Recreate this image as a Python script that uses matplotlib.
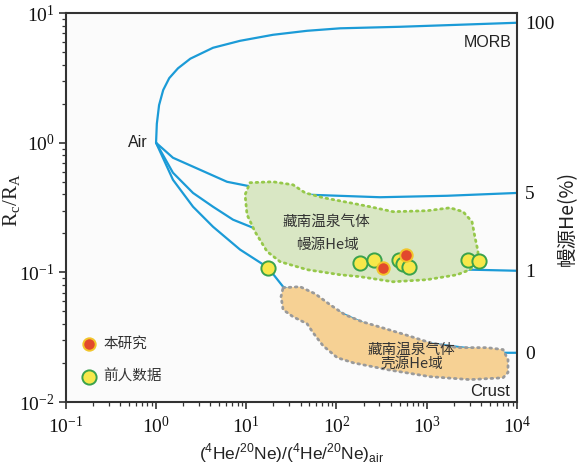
import matplotlib
matplotlib.use("Agg")
import matplotlib.pyplot as plt
from matplotlib.ticker import LogLocator, NullFormatter

# 混合曲线 (空气 -> 端元), 横坐标 (4He/20Ne)/(4He/20Ne)air, 纵坐标 R/Ra
morb_x = [1.0, 1.02, 1.08, 1.2, 1.4, 1.75, 2.4, 4.28, 8.53, 19.8, 47.2, 110, 507, 2000, 10000]
morb_r = [1.0, 1.4, 1.95, 2.55, 3.15, 3.75, 4.45, 5.40, 6.11, 6.80, 7.30, 7.63, 7.84, 8.1, 8.42]

m5_x = [1.0, 1.54, 3.07, 6.12, 10.2, 51, 304, 1683, 10000]
m5_r = [1.0, 0.766, 0.619, 0.50, 0.466, 0.397, 0.38, 0.39, 0.41]

m1_x = [1.0, 1.54, 2.57, 4.28, 7.14, 11.9, 141, 3020, 10000]
m1_r = [1.0, 0.587, 0.41, 0.321, 0.255, 0.221, 0.125, 0.105, 0.103]

crust_x = [1.0, 1.54, 2.57, 4.28, 8.53, 17.4, 25.6, 507, 7400, 10000]
crust_r = [1.0, 0.518, 0.321, 0.225, 0.150, 0.109, 0.0776, 0.0303, 0.024, 0.024]

# 右侧幔源He比例刻度
mantle_pct_r = [8.42, 0.41, 0.103, 0.024]
mantle_pct_labels = ["100", "5", "1", "0"]

# 幔源He域 (绿色)
green_x = [11.0, 19.8, 33.0, 44.9, 71.0, 142, 236, 424, 1009, 1815, 2535, 3184, 3443,
           3715, 3622, 3027, 2173, 1009, 424, 183, 110, 47.2, 23.7, 17.0, 12.5, 10.2, 9.7]
green_r = [0.492, 0.500, 0.474, 0.411, 0.377, 0.344, 0.321, 0.294, 0.299, 0.315, 0.294,
           0.246, 0.185, 0.145, 0.121, 0.105, 0.0959, 0.0879, 0.0847, 0.0927, 0.0959,
           0.105, 0.121, 0.145, 0.206, 0.279, 0.397]

# 壳源He域 (橙色)
orange_x = [25.6, 39.5, 57.9, 84.9, 124, 192, 320, 577, 1092, 2173, 4673, 7030, 7980,
            7980, 7030, 3027, 1092, 364, 153, 102, 71.0, 55.0, 47.2, 33.0, 25.6, 24.3]
orange_r = [0.0762, 0.0776, 0.0685, 0.0564, 0.0472, 0.0417, 0.0375, 0.0331, 0.0287,
            0.0263, 0.0263, 0.0254, 0.0212, 0.0169, 0.0154, 0.0149, 0.0157, 0.0178,
            0.0201, 0.0220, 0.0272, 0.0343, 0.0402, 0.0455, 0.0516, 0.0650]

# 样品点
prev_x = [17.4, 183, 261, 494, 547, 638, 2877, 3811]
prev_r = [0.109, 0.119, 0.125, 0.125, 0.117, 0.111, 0.125, 0.123]
this_x = [329, 591]
this_r = [0.109, 0.137]

blue = "#1b9bd7"
serif = "Liberation Serif"
sans = "Liberation Sans"
cjk = ["Noto Sans CJK SC", "DejaVu Sans"]

fig = plt.figure(figsize=(5.88, 4.67), dpi=100)
fig.patch.set_facecolor("white")
ax = fig.add_axes([0.112, 0.139, 0.767, 0.833])
ax.set_facecolor("#fbfbfb")
ax.set_xscale("log")
ax.set_yscale("log")
ax.set_xlim(0.1, 1e4)
ax.set_ylim(0.01, 10)

for xs, rs in [(morb_x, morb_r), (m5_x, m5_r), (m1_x, m1_r), (crust_x, crust_r)]:
    ax.plot(xs, rs, color=blue, lw=1.6, zorder=2, solid_capstyle="round",
            solid_joinstyle="round")

ax.fill(green_x, green_r, facecolor="#d9e7c4", edgecolor="#96c84a", lw=2.0,
        linestyle=(0, (0.6, 1.6)), zorder=3, joinstyle="round", capstyle="round")
ax.fill(orange_x, orange_r, facecolor="#f6d194", edgecolor="#9a9a9a", lw=2.0,
        linestyle=(0, (0.6, 1.6)), zorder=3, joinstyle="round", capstyle="round")

ax.scatter(prev_x, prev_r, s=105, facecolor="#f7e84a", edgecolor="#3aa24c",
           lw=1.4, zorder=5, label="前人数据")
ax.scatter(this_x, this_r, s=80, facecolor="#e2492d", edgecolor="#f2c52a",
           lw=1.4, zorder=6, label="本研究")

# 文字标注
ax.text(0.8, 1.0, "Air", fontsize=11.5, family=sans, color="#222222",
        ha="right", va="center")
ax.text(8800, 5.9, "MORB", fontsize=11.5, family=sans, color="#222222",
        ha="right", va="center")
ax.text(8500, 0.0121, "Crust", fontsize=12, family=sans, color="#222222",
        ha="right", va="center")
ax.text(77, 0.246, "藏南温泉气体", fontsize=10.5, family=cjk, color="#333333",
        ha="center", va="center")
ax.text(80, 0.164, "幔源He域", fontsize=10.5, family=cjk, color="#333333",
        ha="center", va="center")
ax.text(671, 0.0251, "藏南温泉气体", fontsize=10.5, family=cjk, color="#333333",
        ha="center", va="center")
ax.text(690, 0.0197, "壳源He域", fontsize=10.5, family=cjk, color="#333333",
        ha="center", va="center")

handles, labels = ax.get_legend_handles_labels()
leg = ax.legend(handles[::-1], labels[::-1], loc="center left",
                bbox_to_anchor=(0.035, 0.107), frameon=False,
                handlelength=1.0, handletextpad=0.5, labelspacing=1.3,
                borderpad=0, borderaxespad=0, prop={"family": cjk, "size": 10.5})
for t in leg.get_texts():
    t.set_color("#333333")

# 坐标轴
for sp in ax.spines.values():
    sp.set_color("#333333")
    sp.set_linewidth(1.5)
ax.xaxis.set_major_locator(LogLocator(base=10, numticks=10))
ax.xaxis.set_minor_locator(LogLocator(base=10, subs=range(2, 10), numticks=10))
ax.yaxis.set_minor_locator(LogLocator(base=10, subs=range(2, 10), numticks=10))
ax.xaxis.set_minor_formatter(NullFormatter())
ax.yaxis.set_minor_formatter(NullFormatter())
ax.tick_params(which="major", direction="out", length=5, width=1.2, color="#333333",
               labelsize=14, labelfontfamily=serif, labelcolor="#111111")
ax.tick_params(which="minor", direction="out", length=3, width=0.9, color="#333333")
ax.tick_params(axis="x", pad=5)
ax.tick_params(axis="y", pad=3)

ax.set_xlabel(r"($^{\mathdefault{4}}$He/$^{\mathdefault{20}}$Ne)/"
              r"($^{\mathdefault{4}}$He/$^{\mathdefault{20}}$Ne)$_{\mathdefault{air}}$",
              fontsize=12.5, family=sans, color="#222222")
ax.xaxis.set_label_coords(0.5, -0.1)
ax.set_ylabel(r"R$_{\mathdefault{c}}$/R$_{\mathdefault{A}}$", fontsize=15,
              family=serif, color="#222222")
ax.yaxis.set_label_coords(-0.095, 0.52)

ax2 = ax.twinx()
ax2.set_yscale("log")
ax2.set_ylim(ax.get_ylim())
ax2.set_yticks(mantle_pct_r)
ax2.set_yticklabels(mantle_pct_labels)
ax2.yaxis.set_minor_formatter(NullFormatter())
ax2.tick_params(which="minor", length=0)
ax2.tick_params(which="major", length=0, pad=6, labelsize=14,
                labelfontfamily=serif, labelcolor="#111111")
for sp in ax2.spines.values():
    sp.set_visible(False)
ax2.set_ylabel("幔源He(%)", fontsize=14, family=cjk, color="#222222")
ax2.yaxis.set_label_coords(1.088, 0.473)

fig.savefig("out.png", dpi=100)
